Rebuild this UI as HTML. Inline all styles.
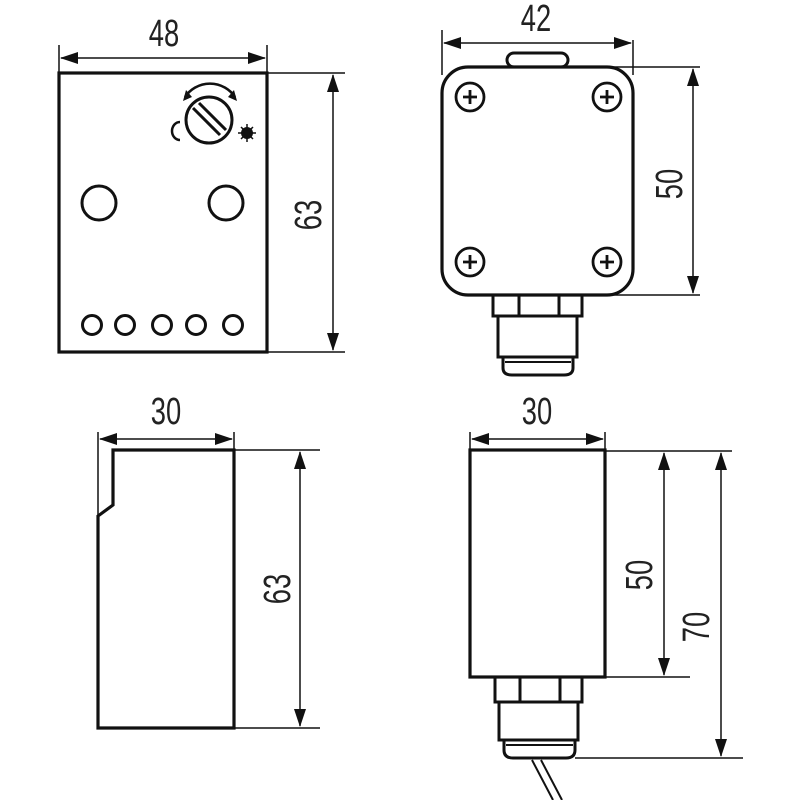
<!DOCTYPE html>
<html><head><meta charset="utf-8"><style>
html,body{margin:0;padding:0;background:#fff}
svg{display:block}
text{font-family:"Liberation Sans",sans-serif;font-size:38px;fill:#222}
</style></head><body>
<svg width="800" height="800" viewBox="0 0 800 800" xmlns="http://www.w3.org/2000/svg">
<g fill="none" stroke="#111">
<!-- Top-left front view -->
<rect x="59" y="73" width="208" height="279" stroke-width="3.2"/>
<g stroke-width="1.5">
<line x1="59" y1="45" x2="59" y2="73"/><line x1="267" y1="45" x2="267" y2="73"/>
<line x1="61" y1="58" x2="265" y2="58"/>
<line x1="267" y1="73" x2="345" y2="73"/><line x1="267" y1="352" x2="345" y2="352"/>
<line x1="333" y1="75" x2="333" y2="350"/>
</g>
<circle cx="209" cy="120" r="23" stroke-width="3"/>
<line x1="193" y1="108" x2="220" y2="135" stroke-width="3"/>
<line x1="199" y1="103" x2="226" y2="130" stroke-width="3"/>
<path d="M185,97 A30,30 0 0 1 235,97" stroke-width="2.5"/>
<path d="M180,122 A8,9 0 0 0 180,140" stroke-width="2.5"/>
<circle cx="99" cy="203" r="17" stroke-width="3"/>
<circle cx="226" cy="203" r="17" stroke-width="3"/>
<g stroke-width="3"><circle cx="92" cy="325" r="9.5"/><circle cx="125" cy="325" r="9.5"/><circle cx="162" cy="325" r="9.5"/><circle cx="196" cy="325" r="9.5"/><circle cx="233" cy="325" r="9.5"/></g>

<!-- Top-right -->
<rect x="442" y="67" width="191" height="228" rx="26" stroke-width="3.2"/>
<rect x="507" y="53" width="61" height="14" rx="7" stroke-width="3"/>
<g stroke-width="1.5">
<line x1="442" y1="30" x2="442" y2="75"/><line x1="633" y1="40" x2="633" y2="75"/>
<line x1="444" y1="43" x2="631" y2="43"/>
<line x1="600" y1="67" x2="700" y2="67"/><line x1="600" y1="295" x2="700" y2="295"/>
<line x1="693" y1="69" x2="693" y2="293"/>
</g>
<g stroke-width="2.8">
<circle cx="470" cy="97" r="14"/><circle cx="607" cy="97" r="14"/><circle cx="470" cy="262" r="14"/><circle cx="607" cy="262" r="14"/>
<path d="M463,97h14M470,90v14M600,97h14M607,90v14M463,262h14M470,255v14M600,262h14M607,255v14"/>
</g>
<g stroke-width="3">
<rect x="493" y="295" width="89" height="21"/>
<line x1="519" y1="295" x2="519" y2="316"/><line x1="559" y1="295" x2="559" y2="316"/>
<rect x="498" y="316" width="79" height="41"/>
<path d="M503,357 V368 Q503,375 512,375 H564 Q573,375 573,368 V357"/>
<line x1="505" y1="362" x2="571" y2="362" stroke-width="2"/>
</g>

<!-- Bottom-left side -->
<path d="M113,450 H234 V728 H98 V516 L113,505 Z" stroke-width="3.2"/>
<g stroke-width="1.5">
<line x1="98" y1="432" x2="98" y2="516"/><line x1="234" y1="432" x2="234" y2="450"/>
<line x1="100" y1="439" x2="232" y2="439"/>
<line x1="234" y1="450" x2="320" y2="450"/><line x1="234" y1="728" x2="320" y2="728"/>
<line x1="300" y1="452" x2="300" y2="726"/>
</g>

<!-- Bottom-right -->
<rect x="470" y="450" width="135" height="227" stroke-width="3.2"/>
<g stroke-width="1.5">
<line x1="470" y1="432" x2="470" y2="450"/><line x1="605" y1="432" x2="605" y2="450"/>
<line x1="472" y1="439" x2="603" y2="439"/>
<line x1="605" y1="451" x2="732" y2="451"/><line x1="605" y1="677" x2="690" y2="677"/>
<line x1="575" y1="758" x2="743" y2="758"/>
<line x1="664" y1="453" x2="664" y2="675"/>
<line x1="721" y1="453" x2="721" y2="756"/>
</g>
<g stroke-width="3">
<rect x="495" y="677" width="87" height="25"/>
<line x1="520" y1="677" x2="520" y2="702"/><line x1="560" y1="677" x2="560" y2="702"/>
<rect x="499" y="702" width="79" height="38"/>
<path d="M504,740 V750 Q504,758 513,758 H566 Q575,758 575,750 V740"/>
<line x1="506" y1="745" x2="573" y2="745" stroke-width="2"/>
</g>
<g stroke-width="2"><line x1="532" y1="760" x2="553" y2="800"/><line x1="541" y1="760" x2="562" y2="800"/></g>
</g>
<!-- arrowheads -->
<g fill="#111">
<!-- horizontal -->
<polygon points="60,58 78,52 78,64"/><polygon points="266,58 248,52 248,64"/>
<polygon points="443,43 461,37 461,49"/><polygon points="632,43 614,37 614,49"/>
<polygon points="99,439 117,433 117,445"/><polygon points="233,439 215,433 215,445"/>
<polygon points="471,439 489,433 489,445"/><polygon points="604,439 586,433 586,445"/>
<!-- vertical -->
<polygon points="333,74 327,92 339,92"/><polygon points="333,351 327,333 339,333"/>
<polygon points="693,68 687,86 699,86"/><polygon points="693,294 687,276 699,276"/>
<polygon points="300,451 294,469 306,469"/><polygon points="300,727 294,709 306,709"/>
<polygon points="664,452 658,470 670,470"/><polygon points="664,676 658,658 670,658"/>
<polygon points="721,452 715,470 727,470"/><polygon points="721,757 715,739 727,739"/>
<!-- knob arc arrows -->
<polygon points="183,101 186,90 192,97"/><polygon points="237,101 234,90 228,97"/>
<!-- star -->
<circle cx="247" cy="133" r="6"/>
<path d="M247,124v18M238,133h18M241,127l12,12M253,127l-12,12" stroke="#111" stroke-width="1.5"/></g>
<!-- labels -->
<g>
<text x="0" y="0" text-anchor="middle" transform="translate(164,46) scale(0.72,1)">48</text>
<text x="0" y="0" text-anchor="middle" transform="translate(536,31) scale(0.72,1)">42</text>
<text x="0" y="0" text-anchor="middle" transform="translate(166,424) scale(0.72,1)">30</text>
<text x="0" y="0" text-anchor="middle" transform="translate(537,424) scale(0.72,1)">30</text>
<text x="0" y="0" text-anchor="middle" transform="translate(321,215) rotate(-90) scale(0.72,1)">63</text>
<text x="0" y="0" text-anchor="middle" transform="translate(682,184) rotate(-90) scale(0.72,1)">50</text>
<text x="0" y="0" text-anchor="middle" transform="translate(290,589) rotate(-90) scale(0.72,1)">63</text>
<text x="0" y="0" text-anchor="middle" transform="translate(652,575) rotate(-90) scale(0.72,1)">50</text>
<text x="0" y="0" text-anchor="middle" transform="translate(709,627) rotate(-90) scale(0.72,1)">70</text>
</g>
</svg>
</body></html>
